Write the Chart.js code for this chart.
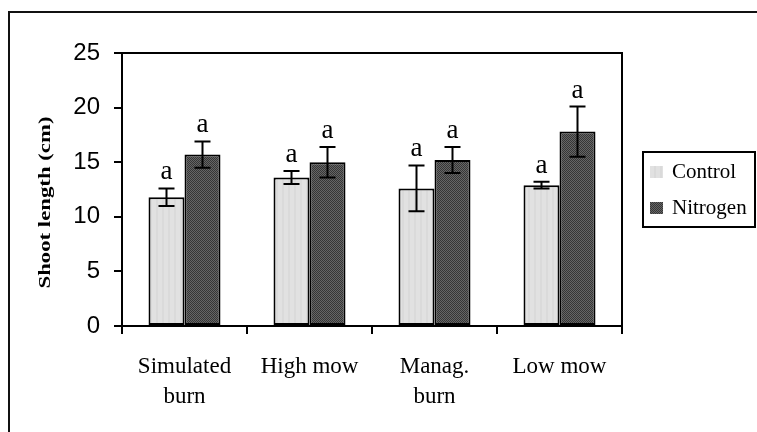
<!DOCTYPE html>
<html>
<head>
<meta charset="utf-8">
<script src="https://cdn.jsdelivr.net/npm/chart.js@4.4.1/dist/chart.umd.min.js"></script>
<style>
  body { margin: 0; background: #fff; }
  canvas { display: block; }
</style>
</head>
<body>
<canvas id="shootChart" width="757" height="432"></canvas>
<script>
// data
var treatments = [["Simulated", "burn"], "High mow", ["Manag.", "burn"], "Low mow"];
var seriesNames = ["Control", "Nitrogen"];
var controlMean = [11.8, 13.6, 12.6, 12.9];
var controlErr = [0.8, 0.6, 2.1, 0.3];
var nitrogenMean = [15.7, 15.0, 15.2, 17.8];
var nitrogenErr = [1.2, 1.4, 1.2, 2.3];
var controlSig = ["a", "a", "a", "a"];
var nitrogenSig = ["a", "a", "a", "a"];
var yTicks = [0, 5, 10, 15, 20, 25];

var serif = "'Liberation Serif', 'Times New Roman', serif";
var sans = "'Liberation Sans', Arial, sans-serif";

// small fill textures like the printed bars
function makePattern(kind) {
    var c = document.createElement('canvas');
    var ctx = c.getContext('2d');
    if (kind === 'light') {
        c.width = 6; c.height = 2;
        ctx.fillStyle = '#e1e1e1';
        ctx.fillRect(0, 0, 6, 2);
        ctx.fillStyle = '#dadada';
        ctx.fillRect(0, 0, 2, 2);
    } else {
        c.width = 2; c.height = 2;
        ctx.fillStyle = '#666666';
        ctx.fillRect(0, 0, 2, 2);
        ctx.fillStyle = '#363636';
        ctx.fillRect(0, 0, 1, 1);
        ctx.fillRect(1, 1, 1, 1);
    }
    return ctx.createPattern(c, 'repeat');
}

var errors = [controlErr, nitrogenErr];
var letters = [controlSig, nitrogenSig];

var extrasPlugin = {
    id: 'extras',
    beforeDraw: function(chart) {
        var ctx = chart.ctx;
        ctx.save();
        ctx.strokeStyle = '#111';
        ctx.lineWidth = 2;
        ctx.strokeRect(9, 12, 770, 440);
        ctx.restore();
    },
    afterDatasetsDraw: function(chart) {
        var ctx = chart.ctx;
        var area = chart.chartArea;
        var y = chart.scales.y;
        ctx.save();
        // frame top and right
        ctx.strokeStyle = '#000';
        ctx.lineWidth = 2;
        ctx.beginPath();
        ctx.moveTo(area.left, area.top);
        ctx.lineTo(area.right, area.top);
        ctx.lineTo(area.right, area.bottom);
        ctx.stroke();

        chart.data.datasets.forEach(function(ds, di) {
            var meta = chart.getDatasetMeta(di);
            meta.data.forEach(function(bar, i) {
                var v = ds.data[i];
                var e = errors[di][i];
                var yHi = y.getPixelForValue(v + e);
                var yLo = y.getPixelForValue(v - e);
                ctx.strokeStyle = '#000';
                ctx.lineWidth = 2;
                ctx.beginPath();
                ctx.moveTo(bar.x, yHi);
                ctx.lineTo(bar.x, yLo);
                ctx.moveTo(bar.x - 8, yHi);
                ctx.lineTo(bar.x + 8, yHi);
                ctx.moveTo(bar.x - 8, yLo);
                ctx.lineTo(bar.x + 8, yLo);
                ctx.stroke();

                ctx.fillStyle = '#000';
                ctx.font = '27px ' + serif;
                ctx.textAlign = 'center';
                ctx.textBaseline = 'alphabetic';
                ctx.fillText(letters[di][i], bar.x, yHi - 9);
            });
        });
        ctx.restore();
    },
    afterDraw: function(chart) {
        var ctx = chart.ctx;
        var area = chart.chartArea;
        ctx.save();
        // y axis title, stretched like the original
        ctx.translate(46, (area.top + area.bottom) / 2 + 13);
        ctx.rotate(-Math.PI / 2);
        ctx.font = 'bold 17px ' + serif;
        var label = 'Shoot length (cm)';
        var w = ctx.measureText(label).width;
        ctx.scale(172 / w, 1);
        ctx.fillStyle = '#000';
        ctx.textAlign = 'center';
        ctx.textBaseline = 'middle';
        ctx.fillText(label, 0, 0);
        ctx.restore();

        // legend
        ctx.save();
        ctx.strokeStyle = '#000';
        ctx.lineWidth = 2;
        ctx.fillStyle = '#fff';
        ctx.fillRect(643, 152, 112, 75);
        ctx.strokeRect(643, 152, 112, 75);
        ctx.font = '21px ' + serif;
        ctx.textAlign = 'left';
        ctx.textBaseline = 'middle';
        chart.data.datasets.forEach(function(ds, di) {
            var cy = 172 + di * 36;
            ctx.fillStyle = ds.backgroundColor;
            ctx.fillRect(650, cy - 6, 13, 12);
            ctx.fillStyle = '#000';
            ctx.fillText(ds.label, 672, cy);
        });
        ctx.restore();
    }
};

var chart = new Chart(document.getElementById('shootChart'), {
    type: 'bar',
    data: {
        labels: treatments,
        datasets: [{
            label: seriesNames[0],
            data: controlMean,
            backgroundColor: makePattern('light'),
            borderColor: '#000',
            borderWidth: 2,
            borderSkipped: false,
            barPercentage: 1,
            categoryPercentage: 0.576
        }, {
            label: seriesNames[1],
            data: nitrogenMean,
            backgroundColor: makePattern('dark'),
            borderColor: '#000',
            borderWidth: 2,
            borderSkipped: false,
            barPercentage: 1,
            categoryPercentage: 0.576
        }]
    },
    options: {
        responsive: false,
        animation: false,
        layout: {
            padding: { top: 53, right: 135, left: 0, bottom: 0 }
        },
        plugins: {
            legend: { display: false },
            tooltip: { enabled: false }
        },
        scales: {
            x: {
                afterFit: function(scale) { scale.height = 106; },
                grid: {
                    offset: true,
                    drawOnChartArea: false,
                    drawTicks: true,
                    tickLength: 8,
                    color: '#000',
                    lineWidth: 2
                },
                border: { color: '#000', width: 2 },
                ticks: {
                    color: '#000',
                    padding: 18,
                    font: { family: serif, size: 23, lineHeight: 1.3 }
                }
            },
            y: {
                min: 0,
                max: 25,
                afterFit: function(scale) { scale.width = 122; },
                afterBuildTicks: function(scale) {
                    scale.ticks = yTicks.map(function(v) { return { value: v }; });
                },
                grid: {
                    drawOnChartArea: false,
                    drawTicks: true,
                    tickLength: 8,
                    color: '#000',
                    lineWidth: 2
                },
                border: { color: '#000', width: 2 },
                ticks: {
                    color: '#000',
                    padding: 14,
                    font: { family: sans, size: 24 }
                }
            }
        }
    },
    plugins: [extrasPlugin]
});
</script>
</body>
</html>
